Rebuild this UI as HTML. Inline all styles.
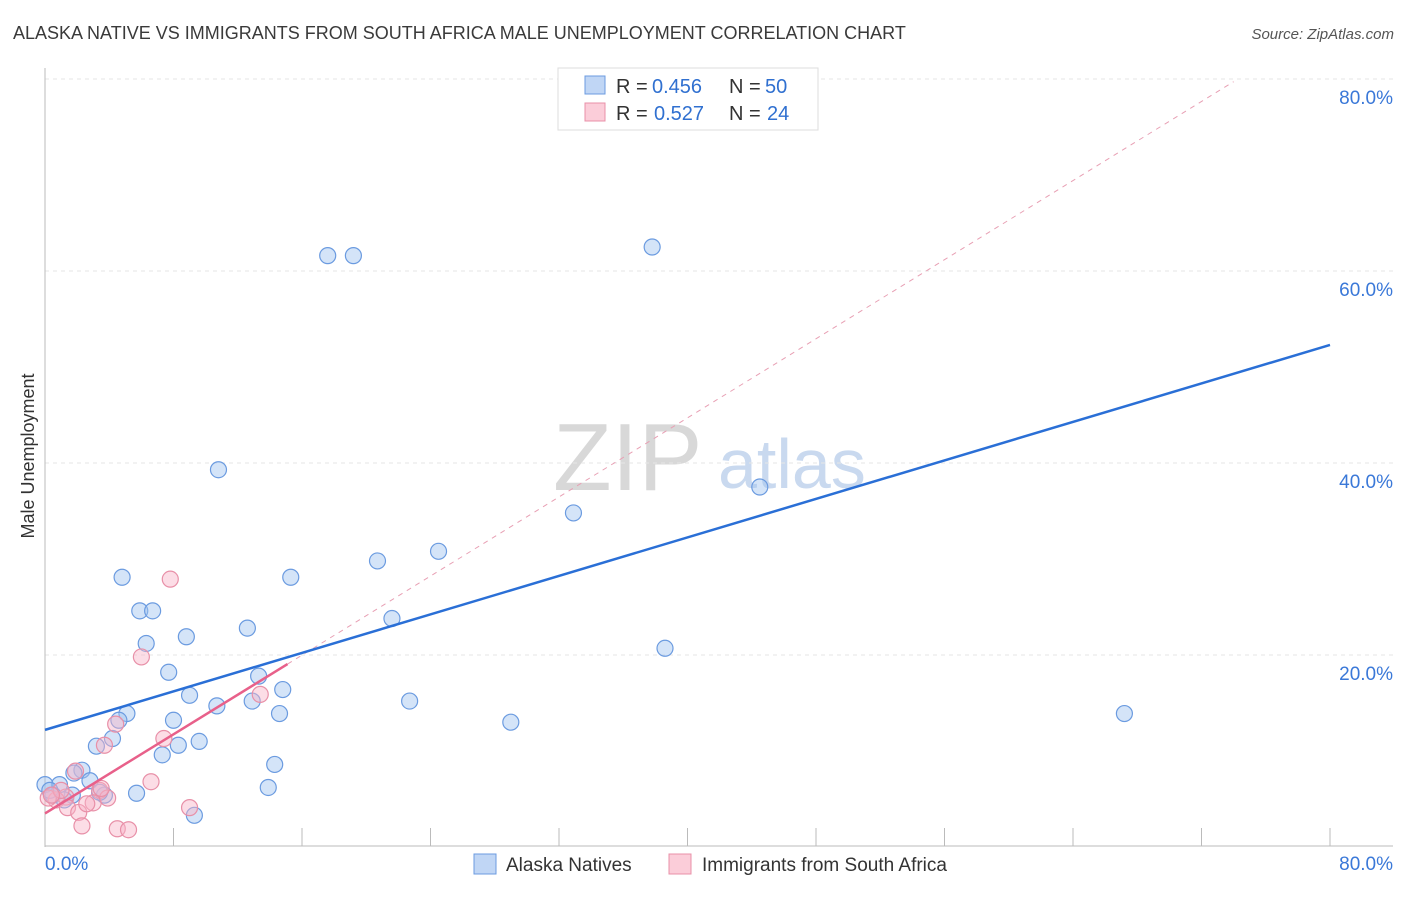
<!DOCTYPE html>
<html><head><meta charset="utf-8"><style>
body{margin:0;background:#fff;font-family:"Liberation Sans",sans-serif}
svg text{font-family:"Liberation Sans",sans-serif}
</style></head><body>
<svg id="c" width="1406" height="892">
<text x="13" y="39" font-size="18" fill="#3a3a3a">ALASKA NATIVE VS IMMIGRANTS FROM SOUTH AFRICA MALE UNEMPLOYMENT CORRELATION CHART</text>
<text x="1394" y="39" font-size="15" fill="#555" font-style="italic" text-anchor="end">Source: ZipAtlas.com</text>
<text x="34" y="456" font-size="18" fill="#333" text-anchor="middle" transform="rotate(-90 34 456)">Male Unemployment</text>
<text x="553" y="490" font-size="96" fill="#d8d8d8" font-family="Liberation Serif">ZIP</text>
<text x="718" y="488" font-size="70" fill="#c9d9ef">atlas</text>
<g id="grid"></g><g id="pts"></g><g id="lines"></g>
<g>
<rect x="558" y="68" width="260" height="62" fill="#fff" stroke="#ddd"/>
<rect x="585" y="76" width="20" height="18" fill="#c0d6f5" stroke="#6b9be0"/>
<text x="616" y="93" font-size="20" fill="#333">R =</text><text x="652" y="93" font-size="20" fill="#3070d0">0.456</text>
<text x="729" y="93" font-size="20" fill="#333">N =</text><text x="765" y="93" font-size="20" fill="#3070d0">50</text>
<rect x="585" y="103" width="20" height="18" fill="#fbcdd9" stroke="#e890a8"/>
<text x="616" y="120" font-size="20" fill="#333">R =</text><text x="654" y="120" font-size="20" fill="#3070d0">0.527</text>
<text x="729" y="120" font-size="20" fill="#333">N =</text><text x="767" y="120" font-size="20" fill="#3070d0">24</text>
</g>
<g>
<rect x="474" y="854" width="22" height="20" fill="#c0d6f5" stroke="#6b9be0"/>
<text x="506" y="871" font-size="19" fill="#333">Alaska Natives</text>
<rect x="669" y="854" width="22" height="20" fill="#fbcdd9" stroke="#e890a8"/>
<text x="702" y="871" font-size="19" fill="#333">Immigrants from South Africa</text>
</g>
</svg>
<script>
const yTicks=[20,40,60,80];
const xTickLabels=["0.0%","80.0%"];
const blueX=[17.6,19.2,37.8,10.8,44.5,32.9,20.7,24.5,4.8,15.3,5.9,6.7,21.6,6.3,8.8,12.6,38.6,7.7,13.3,14.8,9.0,22.7,12.9,10.7,14.6,5.1,4.6,8.0,67.2,29.0,3.2,4.2,8.3,9.6,7.3,14.3,2.3,1.8,2.8,0.9,0.0,13.9,5.7,3.7,1.7,0.5,1.2,9.3,0.3,3.4];
const blueY=[61.6,61.6,62.5,39.3,37.5,34.8,29.8,30.8,28.1,28.1,24.6,24.6,23.8,21.2,21.9,22.8,20.7,18.2,17.8,16.4,15.8,15.2,15.2,14.7,13.9,13.9,13.2,13.2,13.9,13.0,10.5,11.3,10.6,11.0,9.6,8.6,8.0,7.7,6.9,6.5,6.5,6.2,5.6,5.4,5.4,5.4,4.9,3.3,5.9,5.7];
const pinkX=[7.8,6.0,13.4,4.4,3.7,7.4,6.6,1.9,3.4,3.0,3.9,1.3,0.7,0.2,1.4,2.1,2.6,2.3,4.5,5.2,9.0,3.5,1.0,0.4];
const pinkY=[27.9,19.8,15.9,12.8,10.6,11.3,6.8,7.9,5.9,4.6,5.1,5.2,4.9,5.1,4.1,3.6,4.5,2.2,1.9,1.8,4.1,6.1,5.9,5.4];
const blueFit=[12.2,52.3], pinkFit=[3.5,1.03], pinkEnd=15.1;
const X=v=>45+v/80*1285, Y=v=>847-v*9.6;
const NS="http://www.w3.org/2000/svg";
function mk(p,t,a){const e=document.createElementNS(NS,t);for(const k in a)e.setAttribute(k,a[k]);p.appendChild(e);return e;}
const g=document.getElementById('grid');
yTicks.forEach(t=>{
 const l=mk(g,'line',{x1:45,x2:1393,y1:Y(t),y2:Y(t),stroke:'#e6e6e6','stroke-dasharray':'4,4'});
 
 
 const tx=mk(g,'text',{x:1393,y:Y(t)+25,'font-size':19,fill:'#3a78d8','text-anchor':'end'});tx.textContent=t+'.0%';
 
 
});
mk(g,'line',{x1:45,x2:45,y1:68,y2:847,stroke:'#bbb'});
mk(g,'line',{x1:45,x2:1393,y1:846,y2:846,stroke:'#bbb'});
for(let i=0;i<=10;i++){mk(g,'line',{x1:X(i*8),x2:X(i*8),y1:828,y2:846,stroke:'#bbb'});}
const a=mk(g,'text',{x:45,y:870,'font-size':19,fill:'#3a78d8'});a.textContent=xTickLabels[0];

const b=mk(g,'text',{x:1393,y:870,'font-size':19,fill:'#3a78d8','text-anchor':'end'});b.textContent=xTickLabels[1];

const P=document.getElementById('pts');
blueX.forEach((x,i)=>{const c=mk(P,'circle',{cx:X(x),cy:Y(blueY[i]),r:8,fill:'rgba(160,195,240,0.45)',stroke:'#6b9be0','stroke-width':1.2});
 
 });
pinkX.forEach((x,i)=>{const c=mk(P,'circle',{cx:X(x),cy:Y(pinkY[i]),r:8,fill:'rgba(248,180,200,0.45)',stroke:'#e890a8','stroke-width':1.2});
 
 });
const L=document.getElementById('lines');
const pd=mk(L,'line',{x1:X(pinkEnd),y1:Y(pinkFit[0]+pinkFit[1]*pinkEnd),x2:X(74),y2:Y(pinkFit[0]+pinkFit[1]*74),stroke:'#e8a0b4','stroke-dasharray':'5,5'});

const bl=mk(L,'line',{x1:X(0),y1:Y(blueFit[0]),x2:X(80),y2:Y(blueFit[1]),stroke:'#2a6fd6','stroke-width':2.5});

const pl=mk(L,'line',{x1:X(0),y1:Y(pinkFit[0]),x2:X(pinkEnd),y2:Y(pinkFit[0]+pinkFit[1]*pinkEnd),stroke:'#e8608a','stroke-width':2.5});

</script>
</body></html>
